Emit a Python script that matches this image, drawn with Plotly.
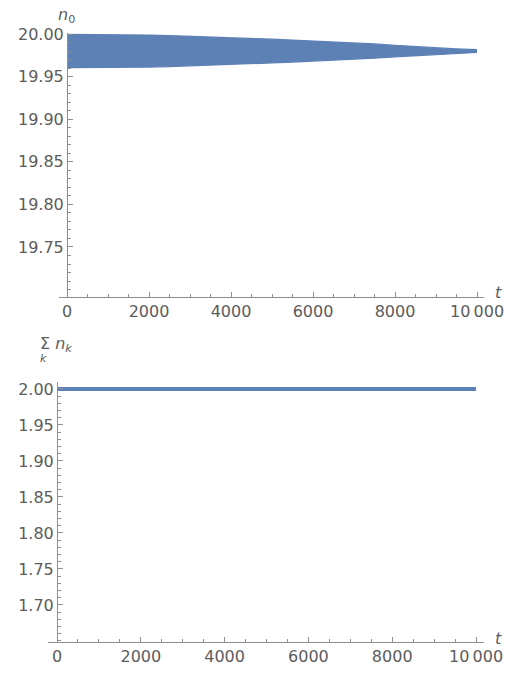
import plotly.graph_objects as go

# ---- data -------------------------------------------------------------
# envelope of the fast oscillation of n0(t)
t_env = [0, 500, 1000, 1500, 2000, 2500, 3000, 3500, 4000, 4500, 5000,
         5500, 6000, 6500, 7000, 7500, 8000, 8500, 9000, 9500, 10000]
n0_upper = [19.9995, 19.9995, 19.9994, 19.9992, 19.9988, 19.9982, 19.9975,
            19.9967, 19.9958, 19.9949, 19.9939, 19.9929, 19.9919, 19.9909,
            19.9897, 19.9884, 19.9868, 19.9853, 19.9837, 19.9825, 19.9816]
n0_lower = [19.9605, 19.9605, 19.9606, 19.9608, 19.9612, 19.9618, 19.9625,
            19.9633, 19.9642, 19.9651, 19.9661, 19.9671, 19.9681, 19.9691,
            19.9703, 19.9716, 19.9732, 19.9747, 19.9763, 19.9775, 19.9784]

# total occupation sum_k n_k(t)
t_sum = [0, 1000, 2000, 3000, 4000, 5000, 6000, 7000, 8000, 9000, 10000]
nk_sum = [2.0, 2.0, 2.0, 2.0, 2.0, 2.0, 2.0, 2.0, 2.0, 2.0, 2.0]

x_tickvals = [0, 2000, 4000, 6000, 8000, 10000]
x_ticktext = ["0", "2000", "4000", "6000", "8000", "10\u2009000"]
y1_tickvals = [19.75, 19.80, 19.85, 19.90, 19.95, 20.00]
y1_ticktext = ["19.75", "19.80", "19.85", "19.90", "19.95", "20.00"]
y2_tickvals = [1.70, 1.75, 1.80, 1.85, 1.90, 1.95, 2.00]
y2_ticktext = ["1.70", "1.75", "1.80", "1.85", "1.90", "1.95", "2.00"]

# ---- styling ----------------------------------------------------------
W, H = 513, 673
BLUE = "rgb(94,129,181)"
AXIS = "#8f8f8f"
LABEL = "#5c5c5c"
FONT = "DejaVu Sans"

x1_range = [-195, 10170]
y1_range = [19.6913, 20.0012]
x2_range = [-215, 10190]
y2_range = [1.6486, 2.0097]

# plot boxes in pixels: (left, right, top, bottom)
box1 = (59, 484, 33, 297)
box2 = (48, 484, 382, 642)


def xdom(b):
    return [b[0] / W, b[1] / W]


def ydom(b):
    return [1 - b[3] / H, 1 - b[2] / H]


def zero_pos(b, xr):
    frac = (0 - xr[0]) / (xr[1] - xr[0])
    return (b[0] + frac * (b[1] - b[0])) / W


fig = go.Figure()

# n0 band: upper edge then lower edge filled to it
fig.add_trace(go.Scatter(x=t_env, y=n0_upper, mode="lines",
                         line=dict(color=BLUE, width=1.2),
                         xaxis="x", yaxis="y", showlegend=False,
                         hoverinfo="skip"))
fig.add_trace(go.Scatter(x=t_env, y=n0_lower, mode="lines",
                         line=dict(color=BLUE, width=1.2),
                         fill="tonexty", fillcolor=BLUE,
                         xaxis="x", yaxis="y", showlegend=False,
                         hoverinfo="skip"))

fig.add_trace(go.Scatter(x=t_sum, y=nk_sum, mode="lines",
                         line=dict(color=BLUE, width=4),
                         xaxis="x2", yaxis="y2", showlegend=False,
                         hoverinfo="skip"))

tickfont = dict(family=FONT, size=16, color=LABEL)


def xaxis(b, xr, anchor):
    return dict(domain=xdom(b), range=xr, anchor=anchor, automargin=False,
                showgrid=False, zeroline=False,
                showline=True, linecolor=AXIS, linewidth=1,
                ticks="inside", ticklen=5, tickcolor=AXIS, tickwidth=1,
                tickvals=x_tickvals, ticktext=x_ticktext,
                tickfont=tickfont,
                minor=dict(dtick=500, tick0=0, ticks="inside", ticklen=3,
                           tickcolor=AXIS, tickwidth=1, showgrid=False))


def yaxis(b, xr, yr, vals, text):
    return dict(domain=ydom(b), range=yr, anchor="free", automargin=False,
                position=zero_pos(b, xr),
                showgrid=False, zeroline=False,
                showline=True, linecolor=AXIS, linewidth=1,
                ticks="inside", ticklen=5, tickcolor=AXIS, tickwidth=1,
                tickvals=vals, ticktext=text, tickfont=tickfont,
                minor=dict(dtick=0.01, tick0=0, ticks="inside", ticklen=3,
                           tickcolor=AXIS, tickwidth=1, showgrid=False))


fig.update_layout(
    template="none",
    width=W, height=H,
    margin=dict(l=0, r=0, t=0, b=0, pad=0),
    paper_bgcolor="white", plot_bgcolor="white",
    xaxis=xaxis(box1, x1_range, "y"),
    yaxis=yaxis(box1, x1_range, y1_range, y1_tickvals, y1_ticktext),
    xaxis2=xaxis(box2, x2_range, "y2"),
    yaxis2=yaxis(box2, x2_range, y2_range, y2_tickvals, y2_ticktext),
)

labfont = dict(family=FONT, size=16, color=LABEL)
ann = [
    dict(text="<i>n</i><sub>0</sub>", x=66 / W, y=1 - 15 / H),
    dict(text="<i>t</i>", x=498 / W, y=1 - 292 / H),
    dict(text="<i>t</i>", x=498 / W, y=1 - 638 / H),
    dict(text="\u03a3 <i>n</i><sub><i>k</i></sub>", x=56 / W, y=1 - 345 / H),
]
for a in ann:
    fig.add_annotation(xref="paper", yref="paper", showarrow=False,
                       xanchor="center", yanchor="middle",
                       font=labfont, **a)
fig.add_annotation(xref="paper", yref="paper", showarrow=False,
                   text="<i>k</i>", x=43 / W, y=1 - 358 / H,
                   xanchor="center", yanchor="middle",
                   font=dict(family=FONT, size=11, color=LABEL))

fig.write_html("out.html")
